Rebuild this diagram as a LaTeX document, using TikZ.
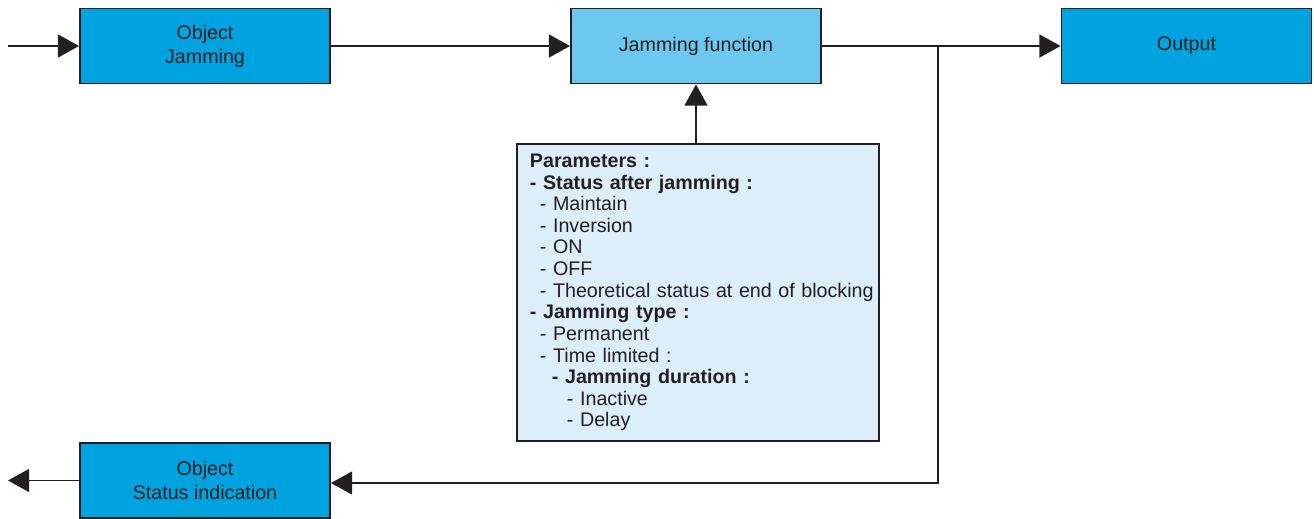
\documentclass[tikz,border=0pt]{standalone}
\usepackage{fontspec}
\setmainfont{Liberation Sans}
\usetikzlibrary{arrows.meta}
\definecolor{boxblue}{HTML}{00A3E0}
\definecolor{funcblue}{HTML}{6DC8F0}
\definecolor{parblue}{HTML}{DCEEF9}
\definecolor{ink}{HTML}{231F20}
\hyphenpenalty=10000
\begin{document}
\begin{tikzpicture}[
    block/.style={rectangle, draw=ink, line width=1.1pt, fill=boxblue, text=ink, align=center,
        minimum width=5cm, minimum height=1.5cm, font=\fontsize{11.2}{13.6}\selectfont},
    func/.style={block, fill=funcblue},
    params/.style={rectangle, draw=ink, line width=1.1pt, fill=parblue, text=ink, align=left,
        text width=6.72cm, inner xsep=0.26cm, minimum height=5.94cm,
        font=\fontsize{11.2}{12.3}\selectfont},
    flow/.style={draw=ink, line width=1.1pt, -{Triangle[length=12pt,width=13pt]}}
]
\useasboundingbox (0,0) rectangle (26.28,-10.36);

% Blocks
\node[block] (objjam) at (4.1,-0.92) {Object\\Jamming};
\node[func] (jamfunc) at (13.92,-0.92) {Jamming function};
\node[block] (output) at (23.73,-0.92) {Output};
\node[block] (objstatus) at (4.1,-9.61) {Object\\Status indication};

% Parameters
\node[params, anchor=north west] (par) at (10.32,-2.86) {%
\textbf{Parameters :}\\
\textbf{- Status after jamming :}\\
\hspace*{0.2cm}- Maintain\\
\hspace*{0.2cm}- Inversion\\
\hspace*{0.2cm}- ON\\
\hspace*{0.2cm}- OFF\\
\hspace*{0.2cm}\mbox{- Theoretical status at end of blocking}\\
\textbf{- Jamming type :}\\
\hspace*{0.2cm}- Permanent\\
\hspace*{0.2cm}- Time limited :\\
\hspace*{0.44cm}\textbf{- Jamming duration :}\\
\hspace*{0.74cm}- Inactive\\
\hspace*{0.74cm}- Delay};

% Free ends
\coordinate (in) at (0.16,-0.92);
\coordinate (out) at (0.16,-9.61);
\coordinate (split) at (18.76,-0.92);
\coordinate (corner) at (18.76,-9.66);

% Connections
\draw[flow] (in) -- (objjam.west);
\draw[flow] (objjam.east) -- (jamfunc.west);
\draw[flow] (jamfunc.east) -- (output.west);
\draw[flow] (par.north -| jamfunc.south) -- (jamfunc.south);
\draw[flow] (split) -- (corner) -- (objstatus.east |- corner);
\draw[flow] (objstatus.west) -- (out);

\end{tikzpicture}
\end{document}
